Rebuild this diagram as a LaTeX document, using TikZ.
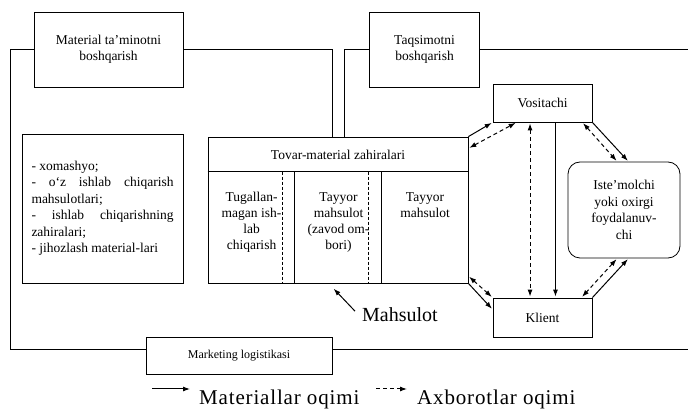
\documentclass[tikz,border=0pt]{standalone}
\usepackage{fontspec}
\setmainfont{Liberation Serif}
\newfontfamily\legendfont[LetterSpace=4]{Liberation Serif}
\usetikzlibrary{arrows.meta,calc}
\tolerance=9999
\hyphenpenalty=10000
\begin{document}
\begin{tikzpicture}[x=1pt,y=-1pt,
  box/.style={draw, line width=0.8pt, inner sep=0pt, align=center,
    font=\fontsize{13.5}{16.5}\selectfont},
  plain/.style={inner sep=0pt, align=center, font=\fontsize{13.5}{16}\selectfont},
  frameline/.style={line width=0.8pt},
  matflow/.style={line width=1pt, -{Latex[length=7pt,width=5pt]}, shorten >=1pt},
  infoflow/.style={line width=1pt, dash pattern=on 4pt off 3pt,
    {Latex[length=7pt,width=5pt]}-{Latex[length=7pt,width=5pt]}, shorten >=1pt, shorten <=1pt},
  legendflow/.style={line width=1pt, dash pattern=on 4pt off 3pt, -{Latex[length=7pt,width=5pt]}},
  bigtext/.style={inner sep=0pt, font=\fontsize{20}{24}\selectfont},
  legendtext/.style={inner sep=0pt, font=\legendfont\fontsize{21}{24}\selectfont}
]
\useasboundingbox (0,0) rectangle (688,411);

% boxes
\node[box, minimum width=149, minimum height=75] (mat) at (108.5,49.5) {Material ta'minotni\\boshqarish};
\node[box, minimum width=110, minimum height=75] (taq) at (424.5,49.5) {Taqsimotni\\boshqarish};
\node[box, minimum width=99, minimum height=38] (vos) at (542.5,103) {Vositachi};
\node[box, rounded corners=12pt, minimum width=112, minimum height=96] (iste) at (624,210) {Iste'molchi\\yoki oxirgi\\foydalanuv-\\chi};
\node[box, minimum width=99, minimum height=39] (kli) at (542.5,317.5) {Klient};
\node[box, minimum width=186, minimum height=37, font=\fontsize{12}{14}\selectfont] (mkt) at (239,355.5) {Marketing logistikasi};
\node[box, text width=142, align=justify, minimum width=161, minimum height=149] (lst) at (102.5,208.5)
  {- xomashyo;\\- o`z ishlab chiqarish mahsulotlari;\\- ishlab chiqarishning zahiralari;\\- jihozlash material-lari};

% Tovar-material block
\node[draw, line width=0.8pt, inner sep=0pt, minimum width=260, minimum height=146] (tov) at (338,210) {};
\node[plain] (tovh) at (338,154.5) {Tovar-material zahiralari};
\draw[line width=0.8pt] ($(tov.north west)+(0,35)$) -- ($(tov.north east)+(0,35)$);
\draw[line width=0.8pt, dash pattern=on 3pt off 2pt] ($(tov.north west)+(75,35)$) -- ($(tov.south west)+(75,0)$);
\draw[line width=0.8pt] ($(tov.north west)+(87,35)$) -- ($(tov.south west)+(87,0)$);
\draw[line width=0.8pt, dash pattern=on 3pt off 2pt] ($(tov.north west)+(161,35)$) -- ($(tov.south west)+(161,0)$);
\draw[line width=0.8pt] ($(tov.north west)+(174,35)$) -- ($(tov.south west)+(174,0)$);
\node[plain, anchor=north] (c1) at (251.5,192) {Tugallan-\\magan ish-\\lab\\chiqarish};
\node[plain, anchor=north] (c2) at (338.5,192) {Tayyor\\mahsulot\\(zavod om-\\bori)};
\node[plain, anchor=north] (c3) at (425,192) {Tayyor\\mahsulot};

% frame lines
\coordinate (cornerL) at (10,349);
\coordinate (tvA) at (332,137);
\coordinate (tvB) at (344,137);
\coordinate (edgeT) at (688,49.5);
\coordinate (edgeB) at (688,349);
\draw[frameline] (mat.west) -| (cornerL) -- (cornerL -| mkt.west);
\draw[frameline] (mat.east) -| (tvA);
\draw[frameline] (taq.west) -| (tvB);
\draw[frameline] (taq.east) -- (edgeT);
\draw[frameline] (mkt.east |- edgeB) -- (edgeB);

% flows
\draw[matflow] (tov.north east) -- (vos.south west);
\draw[infoflow] ($(tov.north east)!0.08!(tov.south east)$) -- ($(vos.south west)!0.24!(vos.south east)$);
\draw[infoflow] ($(vos.south west)!0.375!(vos.south east)$) -- ($(kli.north west)!0.375!(kli.north east)$);
\draw[matflow] ($(vos.south west)!0.63!(vos.south east)$) -- ($(kli.north west)!0.63!(kli.north east)$);
\draw[infoflow] ($(vos.south west)!0.9!(vos.south east)$) -- ($(iste.north west)!0.44!(iste.north east)$);
\draw[matflow] (vos.south east) -- ($(iste.north west)!0.54!(iste.north east)$);
\draw[infoflow] ($(iste.south west)!0.44!(iste.south east)$) -- ($(kli.north west)!0.89!(kli.north east)$);
\draw[matflow] (kli.north east) -- ($(iste.south west)!0.54!(iste.south east)$);
\draw[infoflow] ($(tov.south east)!0.05!(tov.north east)$) -- (kli.north west);
\draw[matflow] (tov.south east) -- ($(kli.north west)!0.3!(kli.south west)$);

% Mahsulot
\node[bigtext, anchor=base west] (mah) at (362,322) {Mahsulot};
\coordinate (mahtip) at (333,288);
\draw[matflow] ($(mah.west)+(-7,-4)$) -- (mahtip);

% legend
\node[legendtext, anchor=base west] (lg1) at (199,404) {Materiallar oqimi};
\node[legendtext, anchor=base west] (lg2) at (417,404) {Axborotlar oqimi};
\coordinate (lg1a) at (152,389);
\coordinate (lg1b) at (191,389);
\coordinate (lg2a) at (376,389);
\coordinate (lg2b) at (407,389);
\draw[matflow] (lg1a) -- (lg1b);
\draw[legendflow] (lg2a) -- (lg2b);
\end{tikzpicture}
\end{document}
